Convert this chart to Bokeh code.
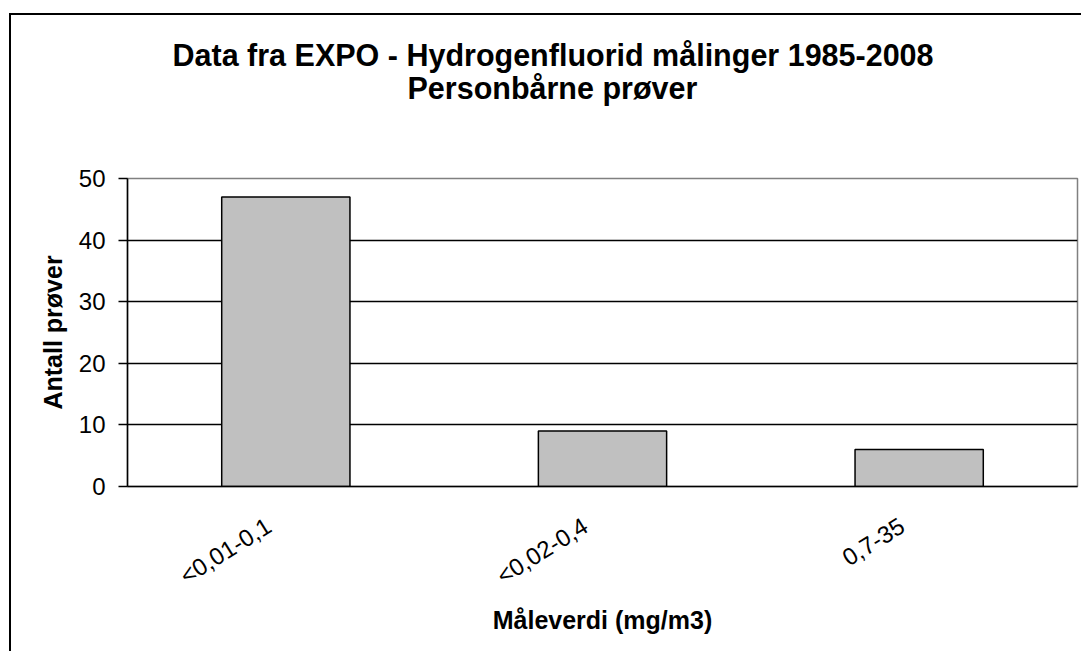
from bokeh.plotting import figure
from bokeh.models import Range1d, FixedTicker, Title, ColumnDataSource, LinearAxis
from bokeh.embed import file_html
from bokeh.resources import INLINE

categories = ["<0,01-0,1", "<0,02-0,4", "0,7-35"]
counts = [47, 9, 6]
y_ticks = [0, 10, 20, 30, 40, 50]
title_line1 = "Data fra EXPO - Hydrogenfluorid målinger 1985-2008"
title_line2 = "Personbårne prøver"
x_label = "Måleverdi (mg/m3)"
y_label = "Antall prøver"

FONT = "Liberation Sans"
LABEL_SHIFT = 0.054  # rotated category labels end slightly left of the category centre

n = len(categories)
idx = list(range(n))
src = ColumnDataSource(dict(i=idx, cat=categories, n=counts))

p = figure(
    x_range=Range1d(-0.5, n - 0.5),
    y_range=Range1d(0, 50),
    width=1070, height=636,
    frame_width=950, frame_height=308,
    min_border_left=116, min_border_right=4, min_border_top=163, min_border_bottom=165,
    output_backend="svg", toolbar_location=None, tools="",
)
p.margin = (13, 0, 0, 9)
p.styles = {"border-left": "2px solid black", "border-top": "2px solid black"}
p.background_fill_color = "white"
p.border_fill_color = "white"
p.outline_line_color = "#808080"
p.outline_line_width = 1.5

p.vbar(x="i", top="n", width=0.405, source=src,
       fill_color="#C0C0C0", line_color="black", line_width=1.5)

# grid
p.xgrid.visible = False
p.ygrid.ticker = FixedTicker(ticks=[10, 20, 30, 40])
p.ygrid.grid_line_color = "black"
p.ygrid.grid_line_width = 1.3

# y axis
p.yaxis.ticker = FixedTicker(ticks=y_ticks)
p.yaxis.axis_line_color = "black"
p.yaxis.axis_line_width = 1.5
p.yaxis.major_tick_out = 9
p.yaxis.major_tick_in = 0
p.yaxis.major_tick_line_width = 1.5
p.yaxis.minor_tick_line_color = None
p.yaxis.major_label_text_font = FONT
p.yaxis.major_label_text_font_size = "24px"
p.yaxis.major_label_text_color = "black"
p.yaxis.major_label_standoff = 13
p.yaxis.axis_label = y_label
p.yaxis.axis_label_text_font = FONT
p.yaxis.axis_label_text_font_style = "bold"
p.yaxis.axis_label_text_font_size = "25px"
p.yaxis.axis_label_text_color = "black"
p.yaxis.axis_label_standoff = 9

# x axis: default axis hidden; a label axis on a slightly shifted index range draws
# the axis line, rotated category labels and the axis title
p.xaxis.visible = False
p.extra_x_ranges = {"lab": Range1d(-0.5 + LABEL_SHIFT, n - 0.5 + LABEL_SHIFT)}
xa = LinearAxis(x_range_name="lab")
xa.ticker = FixedTicker(ticks=idx)
xa.major_label_overrides = {i: c for i, c in zip(idx, categories)}
xa.minor_tick_line_color = None
xa.axis_line_color = "black"
xa.axis_line_width = 1.5
xa.major_tick_out = 0
xa.major_tick_in = 0
xa.major_tick_line_color = None
xa.major_label_orientation = 0.56
xa.major_label_text_font = FONT
xa.major_label_text_font_size = "24px"
xa.major_label_text_color = "black"
xa.major_label_standoff = 37
xa.axis_label = x_label
xa.axis_label_text_font = FONT
xa.axis_label_text_font_style = "bold"
xa.axis_label_text_font_size = "25px"
xa.axis_label_text_color = "black"
xa.axis_label_standoff = 2
p.add_layout(xa, "below")

# title: two lines centred on the whole chart (panels added closest-first), spacer above frame
p.add_layout(Title(text=".", text_font_size="10px", text_color="white", standoff=64), "above")
p.add_layout(Title(text=title_line2, align="left", offset=280, standoff=0, text_font=FONT,
                   text_font_style="bold", text_font_size="30.5px", text_color="black"), "above")
p.add_layout(Title(text=title_line1, align="left", offset=45, standoff=-6, text_font=FONT,
                   text_font_style="bold", text_font_size="30.5px", text_color="black"), "above")

open("out.html", "w").write(file_html(p, INLINE))
